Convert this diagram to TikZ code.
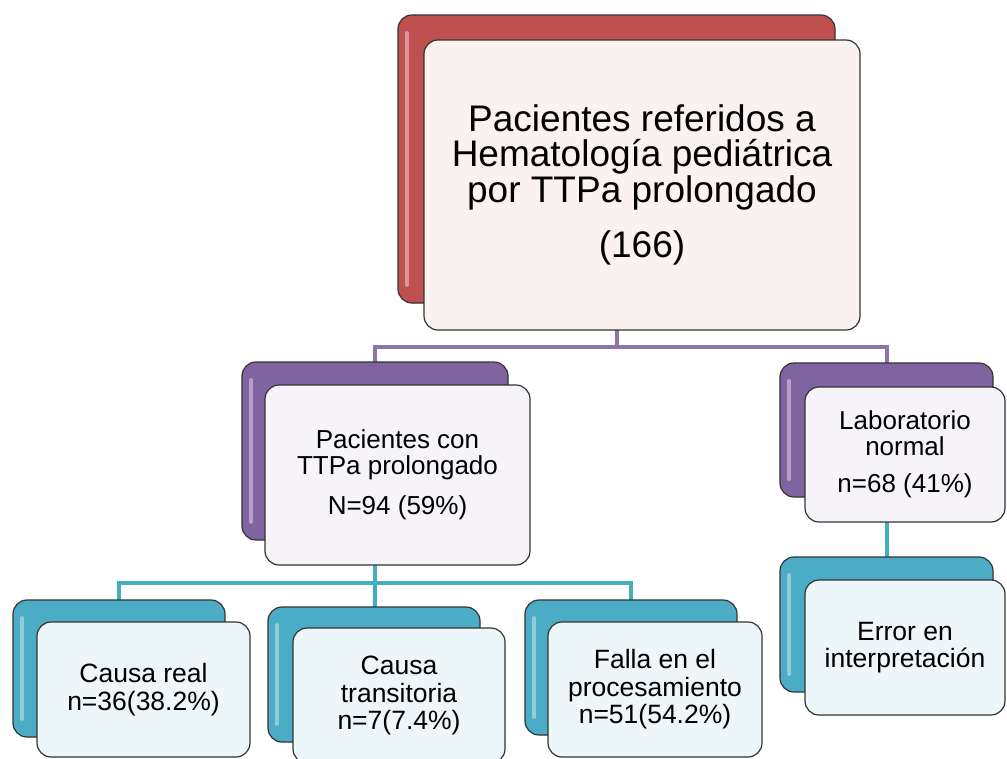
\documentclass[tikz,border=0pt]{standalone}
\usepackage{fontspec}
\setmainfont{Liberation Sans}
\usetikzlibrary{backgrounds,positioning}
\definecolor{hRed}{HTML}{C0504D}
\definecolor{hPurple}{HTML}{8064A2}
\definecolor{hBlue}{HTML}{4BACC6}
\definecolor{hTeal}{HTML}{42AFBF}
\tikzset{
  hbox/.style = {rectangle, rounded corners=14pt, draw=black!80,
    line width=1.2pt, inner sep=0pt, align=center, text centered},
  sz/.style 2 args = {minimum width=#1pt, minimum height=#2pt},
  hier_back/.style = {hbox, fill=#1,
    path picture={\draw[white, opacity=0.4, line width=4pt, line cap=round]
      ([xshift=9pt,yshift=-18pt]path picture bounding box.north west) --
      ([xshift=9pt,yshift=18pt]path picture bounding box.south west);}},
  hier_r/.style = {hier_back=hRed},% caja trasera, nivel 1
  hier_p/.style = {hier_back=hPurple},% caja trasera, nivel 2
  hier_b/.style = {hier_back=hBlue},% caja trasera, nivel 3
  hier_wr/.style = {hbox, fill=hRed!8!white,
    font=\fontsize{37}{35.5}\selectfont},% caja delantera, nivel 1
  hier_wp/.style = {hbox, fill=hPurple!7!white,
    font=\fontsize{26}{25.5}\selectfont},% caja delantera, nivel 2
  hier_wb/.style = {hbox, fill=hBlue!10!white,
    font=\fontsize{26.5}{27.5}\selectfont},% caja delantera, nivel 3
  conn_p/.style = {draw=hPurple!90!white, line width=4pt},
  conn_b/.style = {draw=hTeal, line width=4pt}
}
\begin{document}
\begin{tikzpicture}[x=1pt, y=-1pt]
\clip (0,0) rectangle (1007,758);
% nivel 1
\node [hier_r, sz={437}{288}] (topB) at (616.5,159) {};
\node [hier_wr, sz={436}{290}] (topF) at (642,185)
  {Pacientes referidos a\\Hematología pediátrica\\por TTPa prolongado\\[20pt](166)};
% nivel 2
\node [hier_p, sz={266}{178}] (conB) at (375,451) {};
\node [hier_wp, sz={265}{180}] (conF) at (397.5,475)
  {Pacientes con\\TTPa prolongado\\[15pt]N=94 (59\%)};
\node [hier_p, sz={213}{134}] (labB) at (886.5,430) {};
\node [hier_wp, sz={200}{135}] (labF) at (905,454.5)
  {Laboratorio\\normal\\[12pt]n=68 (41\%)};
% nivel 3
\node [hier_b, sz={212}{137}] (realB) at (119,668.5) {};
\node [hier_wb, sz={213}{135}] (realF) at (143.5,689.5)
  {Causa real\\n=36(38.2\%)};
\node [hier_b, sz={212}{135}] (tranB) at (374,674.5) {};
\node [hier_wb, sz={212}{135}] (tranF) at (399,695.5)
  {Causa\\transitoria\\n=7(7.4\%)};
\node [hier_b, sz={212}{135}] (fallB) at (631,667.5) {};
\node [hier_wb, sz={214}{135}] (fallF) at (655,689.5)
  {Falla en el\\procesamiento\\n=51(54.2\%)};
\node [hier_b, sz={213}{135}] (errB) at (886.5,624.5) {};
\node [hier_wb, sz={200}{135}] (errF) at (905,647.5)
  {Error en\\interpretación};
% conectores
\coordinate (busA) at (616.5,347);
\coordinate (busB) at (375,583);
\begin{scope}[on background layer]
  \draw [conn_p] (topB.center) -- (busA);
  \draw [conn_p] (conB.center) |- (busA) -| (labB.center);
  \draw [conn_b] (conB.center) -- (busB);
  \draw [conn_b] (realB.center) |- (busB) -| (fallB.center);
  \draw [conn_b] (busB) -- (tranB.center);
  \draw [conn_b] (labB.center) -- (errB.center);
\end{scope}
\end{tikzpicture}
\end{document}
